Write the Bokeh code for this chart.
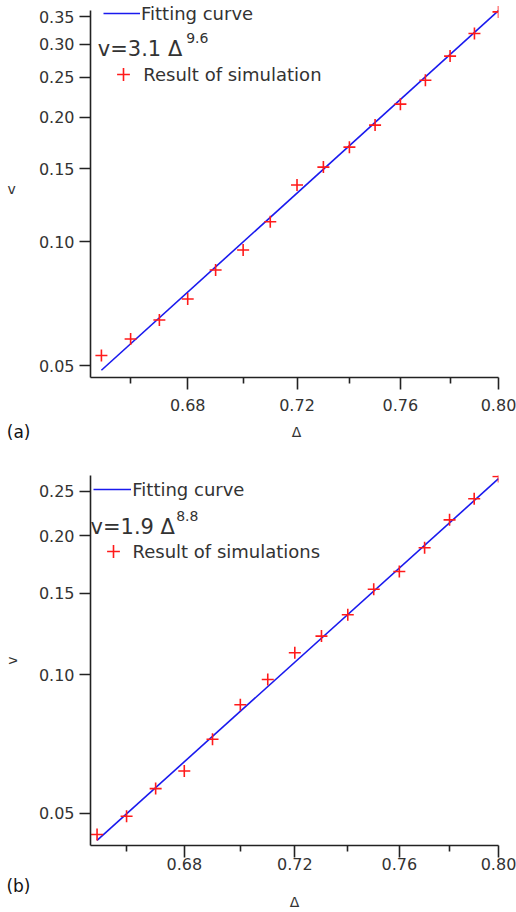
from bokeh.plotting import figure
from bokeh.layouts import column
from bokeh.models import (FixedTicker, PrintfTickFormatter, Label, Legend,
                          LegendItem, Range1d)
from bokeh.embed import file_html
from bokeh.resources import INLINE

# ---------------- data ----------------
delta = [0.65, 0.66, 0.67, 0.68, 0.69, 0.70, 0.71, 0.72,
         0.73, 0.74, 0.75, 0.76, 0.77, 0.78, 0.79, 0.80]
v_sim_a = [0.0530, 0.0581, 0.0646, 0.0726, 0.0853, 0.0954, 0.1116, 0.1370,
           0.1514, 0.1692, 0.1913, 0.2150, 0.2457, 0.2810, 0.3188, 0.3595]
v_sim_b = [0.0450, 0.0493, 0.0566, 0.0618, 0.0724, 0.0860, 0.0976, 0.1115,
           0.1212, 0.1348, 0.1532, 0.1674, 0.1884, 0.2166, 0.2406, 0.2690]
fit_delta = [0.65, 0.80]
fit_a = [0.0488, 0.3620]
fit_b = [0.0437, 0.2660]

x_major = [0.68, 0.72, 0.76, 0.80]
x_minor = [0.66, 0.70, 0.74, 0.78]
y_ticks_a = [0.05, 0.10, 0.15, 0.20, 0.25, 0.30, 0.35]
y_ticks_b = [0.05, 0.10, 0.15, 0.20, 0.25]

coef_a, expo_a = "3.1", "9.6"
coef_b, expo_b = "1.9", "8.8"
sim_label_a = "Result of simulation"
sim_label_b = "Result of simulations"
fit_label = "Fitting curve"
x_label = "Δ"
y_label = "v"

FONT = "DejaVu Sans"
AX = "#222222"
TXT = "#333333"
BLUE = "#1a1aee"
RED = "#ff1a1a"
W = 516
LEFT = 90      # common frame left edge (column aligns the frames)
RIGHT = 18


def panel(height, mb_top, mb_bottom, xr, yr, ybounds, yticks, vsim, vfit,
          coef, expo, sim_label, cfg):
    p = figure(width=W, height=height, x_axis_type="log", y_axis_type="log",
               x_range=Range1d(*xr), y_range=Range1d(*yr),
               output_backend="svg", toolbar_location=None,
               min_border_left=LEFT, min_border_right=RIGHT,
               min_border_top=mb_top, min_border_bottom=mb_bottom)
    p.outline_line_color = None
    p.grid.visible = False
    p.background_fill_color = "white"
    p.border_fill_color = "white"

    fit_r = p.line(fit_delta, vfit, line_color=BLUE, line_width=1.6)
    sim_r = p.scatter(delta, vsim, marker="cross", size=12,
                      line_color=RED, line_width=1.6)

    for ax in (p.xaxis[0], p.yaxis[0]):
        ax.axis_line_color = AX
        ax.axis_line_width = 1.6
        ax.major_tick_line_color = AX
        ax.major_tick_line_width = 1.6
        ax.minor_tick_line_color = AX
        ax.minor_tick_line_width = 1.6
        ax.major_tick_in = 0
        ax.minor_tick_in = 0
        ax.major_label_text_font = FONT
        ax.major_label_text_font_size = "16px"
        ax.major_label_text_color = TXT
        ax.axis_label_text_font = FONT
        ax.axis_label_text_font_size = "14px"
        ax.axis_label_text_font_style = "normal"
        ax.axis_label_text_color = TXT
        ax.formatter = PrintfTickFormatter(format="%.2f")

    xa = p.xaxis[0]
    xa.ticker = FixedTicker(ticks=x_major, minor_ticks=x_minor)
    xa.major_tick_out = 12
    xa.minor_tick_out = 6
    xa.major_label_standoff = cfg["x_std"]

    ya = p.yaxis[0]
    ya.ticker = FixedTicker(ticks=yticks, minor_ticks=[])
    ya.bounds = ybounds
    ya.major_tick_out = 11
    ya.minor_tick_out = 0
    ya.major_label_standoff = 5
    ya.axis_label = y_label
    ya.axis_label_standoff = cfg["y_lab_std"]
    if cfg["y_horizontal"]:
        ya.axis_label_orientation = "horizontal"

    common = dict(border_line_color=None, background_fill_alpha=0,
                  padding=0, margin=0, spacing=0,
                  label_text_font=FONT, label_text_font_size="18px",
                  label_text_color=TXT)
    leg1 = Legend(items=[LegendItem(label=fit_label, renderers=[fit_r])],
                  location=cfg["leg1"], glyph_width=cfg["line_len"],
                  glyph_height=24, label_height=24,
                  label_standoff=1, **common)
    leg2 = Legend(items=[LegendItem(label=sim_label, renderers=[sim_r])],
                  location=cfg["leg2"], glyph_width=32, glyph_height=32,
                  label_height=32, label_standoff=4, **common)
    p.add_layout(leg1)
    p.add_layout(leg2)

    p.add_layout(Label(x=cfg["eq"][0], y=cfg["eq"][1], x_units="screen",
                       y_units="screen", text="v=" + coef + " Δ",
                       text_font=FONT, text_font_size="21px",
                       text_color=TXT, text_baseline="middle"))
    p.add_layout(Label(x=cfg["sup"][0], y=cfg["sup"][1], x_units="screen",
                       y_units="screen", text=expo,
                       text_font=FONT, text_font_size="14px",
                       text_color=TXT, text_baseline="middle"))
    return p


def strip(height, tag, mb_bottom, lab_in_frame, lab_x=0, lab_y=0):
    """Thin band under a panel: panel tag on the left, x-axis label centred."""
    s = figure(width=W, height=height, x_range=Range1d(0, 1),
               y_range=Range1d(0, 1),
               x_axis_location=None if lab_in_frame else "below",
               y_axis_location="left", toolbar_location=None,
               output_backend="svg", min_border_left=LEFT,
               min_border_right=RIGHT, min_border_top=0,
               min_border_bottom=mb_bottom)
    s.outline_line_color = None
    s.grid.visible = False
    s.border_fill_color = "white"
    s.background_fill_color = "white"
    axes = [s.yaxis[0]] + ([] if lab_in_frame else [s.xaxis[0]])
    for ax in axes:
        ax.ticker = FixedTicker(ticks=[], minor_ticks=[])
        ax.axis_line_color = None
        ax.major_tick_line_color = None
        ax.minor_tick_line_color = None
        ax.major_tick_out = 0
        ax.minor_tick_out = 0
        ax.major_label_standoff = 0
        ax.axis_label_text_font = FONT
        ax.axis_label_text_font_style = "normal"
    ya = s.yaxis[0]
    ya.axis_label = tag
    ya.axis_label_orientation = "horizontal"
    ya.axis_label_text_font_size = "17px"
    ya.axis_label_text_color = "#111111"
    ya.axis_label_standoff = LEFT - 30
    if lab_in_frame:
        s.add_layout(Label(x=lab_x - LEFT, y=lab_y, x_units="screen",
                           y_units="screen", text=x_label, text_font=FONT,
                           text_font_size="14px", text_color=TXT,
                           text_baseline="middle", text_align="center"))
    else:
        xa = s.xaxis[0]
        xa.axis_label = x_label
        xa.axis_label_text_font_size = "14px"
        xa.axis_label_text_color = TXT
        xa.axis_label_standoff = 0
    return s


# panel (a): frame spans page y 0..377, axis line drawn from 0.04687 to 0.3623
pa = panel(418, 0, 41, (0.6463, 0.80), (0.04687, 0.3831),
           (0.04687, 0.3623), y_ticks_a, v_sim_a, fit_a, coef_a, expo_a,
           sim_label_a,
           dict(x_std=9, y_lab_std=20, y_horizontal=True,
                leg1=(13, 352), line_len=37, leg2=(17.3, 287),
                eq=(7.3, 329), sup=(95.7, 340)))
sa = strip(30, "(a)", 4, True, 296, 13)

pb = panel(429, 27, 32, (0.6478, 0.80), (0.0426, 0.2703),
           (0.0426, 0.2703), y_ticks_b, v_sim_b, fit_b, coef_b, expo_b,
           sim_label_b,
           dict(x_std=0, y_lab_std=16, y_horizontal=False,
                leg1=(3.3, 344), line_len=38, leg2=(6.5, 278),
                eq=(0, 319), sup=(85.7, 330)))
sb = strip(35, "(b)", 19, False)

layout = column(pa, sa, pb, sb, spacing=0)
open("out.html", "w").write(file_html(layout, INLINE))
